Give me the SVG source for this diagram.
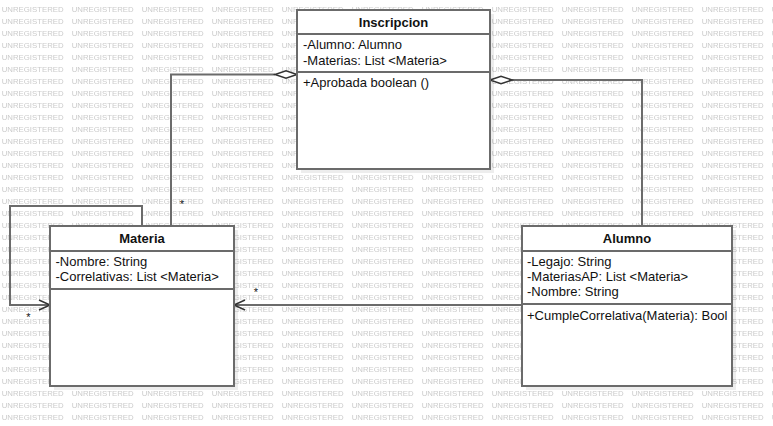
<svg xmlns="http://www.w3.org/2000/svg" width="773" height="426" viewBox="0 0 773 426">
<style>
.wm{font-family:"Liberation Sans",Arial,sans-serif;font-size:7.5px;fill:#cbcbcb}
.box{fill:#fff;stroke:#6b6b6b;stroke-width:2}
.sh{fill:#000;opacity:0.07}
.div{stroke:#6b6b6b;stroke-width:2}
.t{font-family:"Liberation Sans",Arial,sans-serif;font-size:13px;fill:#111}
.h{font-family:"Liberation Sans",Arial,sans-serif;font-size:13px;font-weight:bold;fill:#111;text-anchor:middle}
.ln{fill:none;stroke:#6b6b6b;stroke-width:2}
.dm{fill:#fff;stroke:#333;stroke-width:1.5}
.ar{fill:none;stroke:#333;stroke-width:1.5}
.st{font-family:"Liberation Sans",Arial,sans-serif;font-size:11px;fill:#111;text-anchor:middle}
</style>
<defs>
<pattern id="wmp" width="70" height="12" patternUnits="userSpaceOnUse">
<text class="wm" x="1.7" y="11.8" textLength="62" lengthAdjust="spacingAndGlyphs">UNREGISTERED</text>
</pattern>
</defs>
<rect width="773" height="426" fill="#fff"/>
<rect width="773" height="426" fill="url(#wmp)"/>
<g id="connectors">
<path class="ln" d="M275,74.5 H171 V226"/>
<polygon class="dm" points="297,74.5 286,70.8 275,74.5 286,78.2"/>
<text class="st" x="182" y="208">*</text>
<path class="ln" d="M512,80 H642 V226"/>
<polygon class="dm" points="490,80 501,76.3 512,80 501,83.7"/>
<path class="ln" d="M142,226 V206 H10 V305 H50"/>
<polyline class="ar" points="39,300 50,305 39,310"/>
<text class="st" x="28.5" y="321">*</text>
<path class="ln" d="M522,305 H234"/>
<polyline class="ar" points="245,300 234,305 245,310"/>
<text class="st" x="256" y="296">*</text>
</g>
<g id="inscripcion">
<rect class="sh" x="301" y="14" width="193" height="159"/>
<rect class="box" x="297" y="10" width="193" height="159"/>
<line class="div" x1="297" y1="34" x2="490" y2="34"/>
<line class="div" x1="297" y1="72" x2="490" y2="72"/>
<text class="h" x="393.5" y="27">Inscripcion</text>
<text class="t" x="303" y="49">-Alumno: Alumno</text>
<text class="t" x="303" y="64.5">-Materias: List &lt;Materia&gt;</text>
<text class="t" x="303" y="87">+Aprobada boolean ()</text>
</g>
<g id="materia">
<rect class="sh" x="54" y="230" width="184" height="160"/>
<rect class="box" x="50" y="226" width="184" height="160"/>
<line class="div" x1="50" y1="251" x2="234" y2="251"/>
<line class="div" x1="50" y1="289" x2="234" y2="289"/>
<text class="h" x="142" y="243">Materia</text>
<text class="t" x="55.5" y="266">-Nombre: String</text>
<text class="t" x="55.5" y="281">-Correlativas: List &lt;Materia&gt;</text>
</g>
<g id="alumno">
<rect class="sh" x="526" y="230" width="210" height="160"/>
<rect class="box" x="522" y="226" width="210" height="160"/>
<line class="div" x1="522" y1="251" x2="732" y2="251"/>
<line class="div" x1="522" y1="304" x2="732" y2="304"/>
<text class="h" x="627" y="243">Alumno</text>
<text class="t" x="527" y="265.5">-Legajo: String</text>
<text class="t" x="527" y="281">-MateriasAP: List &lt;Materia&gt;</text>
<text class="t" x="527" y="296">-Nombre: String</text>
<text class="t" x="527" y="319.5">+CumpleCorrelativa(Materia): Bool</text>
</g>
</svg>
